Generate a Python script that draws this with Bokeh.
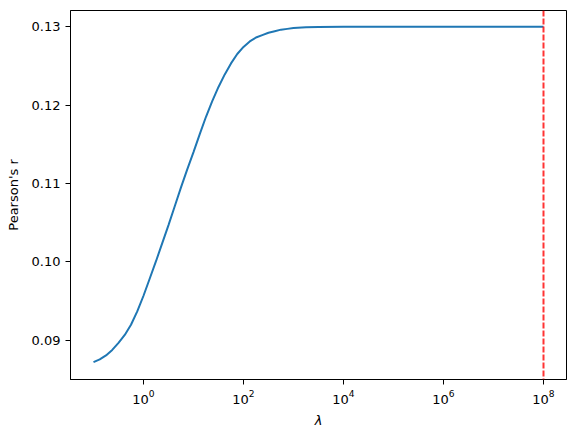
from bokeh.plotting import figure
from bokeh.models import Range1d, FixedTicker, PrintfTickFormatter, Span
from bokeh.embed import file_html
from bokeh.resources import INLINE

lambdas = [0.1, 0.1334, 0.1778, 0.2371, 0.3162, 0.4217, 0.5623, 0.7499,
           1, 1.334, 1.778, 2.371, 3.162, 4.217, 5.623, 7.499,
           10, 13.34, 17.78, 23.71, 31.62, 42.17, 56.23, 74.99,
           100, 133.4, 177.8, 237.1, 316.2, 421.7, 562.3, 749.9,
           1000, 1778, 3162, 1e4, 1e5, 1e6, 1e7, 1e8]
pearson_r = [0.08725, 0.0876, 0.0881, 0.0888, 0.0897, 0.0907, 0.0920, 0.0937,
             0.0957, 0.0979, 0.1001, 0.1024, 0.1047, 0.1071, 0.1095, 0.1118,
             0.1140, 0.1163, 0.1185, 0.1205, 0.1223, 0.1239, 0.1253, 0.1265,
             0.1274, 0.1281, 0.1286, 0.1289, 0.1292, 0.1294, 0.1296, 0.1297,
             0.12980, 0.12990, 0.12994, 0.12997, 0.12997, 0.12997, 0.12997,
             0.12997]
best_lambda = 1e8
x_ticks = [1, 100, 1e4, 1e6, 1e8]
y_ticks = [0.09, 0.10, 0.11, 0.12, 0.13]

p = figure(width=576, height=438, x_axis_type="log", output_backend="svg",
           toolbar_location=None,
           x_range=Range1d(10 ** -1.46, 10 ** 8.46),
           y_range=Range1d(0.08503, 0.13204),
           min_border_left=70, min_border_right=10, min_border_top=10,
           min_border_bottom=59)

p.line(lambdas, pearson_r, line_color="#1f77b4", line_width=2)
p.add_layout(Span(location=best_lambda, dimension="height", line_color="red",
                  line_alpha=0.8, line_width=2, line_dash="6 2"))

p.xgrid.visible = False
p.ygrid.visible = False
p.outline_line_color = "black"
p.outline_line_alpha = 1
p.outline_line_width = 1

for ax in (p.xaxis[0], p.yaxis[0]):
    ax.axis_line_color = "black"
    ax.major_tick_line_color = "black"
    ax.major_tick_out = 5
    ax.major_tick_in = 0
    ax.minor_tick_line_color = None
    ax.major_label_text_font = "DejaVu Sans"
    ax.major_label_text_font_size = "13px"
    ax.major_label_text_color = "black"
    ax.axis_label_text_font = "DejaVu Sans"
    ax.axis_label_text_font_size = "13px"
    ax.axis_label_text_font_style = "normal"
    ax.axis_label_text_color = "black"

p.xaxis.ticker = FixedTicker(ticks=x_ticks, minor_ticks=[])
p.yaxis.ticker = FixedTicker(ticks=y_ticks, minor_ticks=[])
p.yaxis.formatter = PrintfTickFormatter(format="%.2f")
p.xaxis.axis_label = "λ"
p.xaxis.axis_label_text_font_style = "italic"
p.yaxis.axis_label = "Pearson's r"
p.xaxis.axis_label_standoff = 6
p.yaxis.axis_label_standoff = 8

open("out.html", "w").write(file_html(p, INLINE))
